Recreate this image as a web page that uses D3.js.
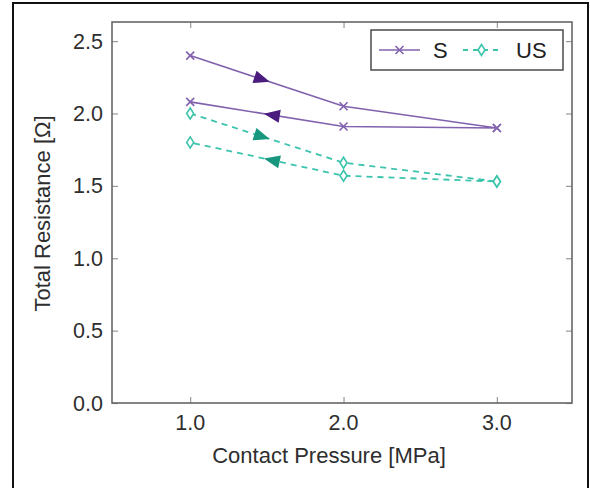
<!doctype html>
<html>
<head>
<meta charset="utf-8">
<script src="https://d3js.org/d3.v7.min.js"></script>
<style>
  body { margin: 0; background: #fff; }
  text { font-family: "Liberation Sans", Arial, sans-serif; fill: #2e2e2e; }
</style>
</head>
<body>
<svg width="590" height="488"></svg>
<script>
// data
var pressure = [1.0, 2.0, 3.0];
var sLoad    = [2.40, 2.05, 1.90];
var sUnload  = [2.08, 1.91, 1.90];
var usLoad   = [2.00, 1.66, 1.53];
var usUnload = [1.80, 1.57, 1.53];
var xTicks = [1.0, 2.0, 3.0];
var yTicks = [0.0, 0.5, 1.0, 1.5, 2.0, 2.5];

var purple = "#8262ae", purpleDark = "#4a1c7e";
var teal = "#3cc4ad", tealDark = "#16977e";

var svg = d3.select("svg");

// outer frame of the figure
svg.append("rect")
   .attr("x", 13).attr("y", 3)
   .attr("width", 575).attr("height", 520)
   .attr("fill", "none").attr("stroke", "#111").attr("stroke-width", 2);

var pLeft = 112, pRight = 572, pTop = 22, pBottom = 403;

var x = d3.scaleLinear().domain([0.49, 3.49]).range([pLeft, pRight]);
var y = d3.scaleLinear().domain([0, 2.632]).range([pBottom, pTop]);

var g = svg.append("g");

// ticks on all four sides, pointing inward
g.append("g").attr("transform", "translate(0," + pBottom + ")")
 .call(d3.axisBottom(x).tickValues(xTicks).tickSize(-6).tickFormat(""))
 .call(s => s.select(".domain").remove());
g.append("g").attr("transform", "translate(0," + pTop + ")")
 .call(d3.axisTop(x).tickValues(xTicks).tickSize(-6).tickFormat(""))
 .call(s => s.select(".domain").remove());
g.append("g").attr("transform", "translate(" + pLeft + ",0)")
 .call(d3.axisLeft(y).tickValues(yTicks).tickSize(-6).tickFormat(""))
 .call(s => s.select(".domain").remove());
g.append("g").attr("transform", "translate(" + pRight + ",0)")
 .call(d3.axisRight(y).tickValues(yTicks).tickSize(-6).tickFormat(""))
 .call(s => s.select(".domain").remove());
g.selectAll(".tick line").attr("stroke", "#999").attr("stroke-width", 1.2);

// plot box
g.append("rect")
 .attr("x", pLeft).attr("y", pTop)
 .attr("width", pRight - pLeft).attr("height", pBottom - pTop)
 .attr("fill", "none").attr("stroke", "#666").attr("stroke-width", 1.6);

// tick labels
g.selectAll(".xl").data(xTicks).enter().append("text")
 .attr("x", d => x(d)).attr("y", pBottom + 27)
 .attr("text-anchor", "middle").attr("font-size", 21.5)
 .text(d => d.toFixed(1));
g.selectAll(".yl").data(yTicks).enter().append("text")
 .attr("x", pLeft - 9).attr("y", d => y(d) + 7.5)
 .attr("text-anchor", "end").attr("font-size", 21.5)
 .text(d => d.toFixed(1));

// axis titles
svg.append("text")
   .attr("x", (pLeft + pRight) / 2 - 13).attr("y", 463)
   .attr("text-anchor", "middle").attr("font-size", 22)
   .text("Contact Pressure [MPa]");
svg.append("text")
   .attr("transform", "translate(50," + ((pTop + pBottom) / 2 + 1) + ") rotate(-90)")
   .attr("text-anchor", "middle").attr("font-size", 22)
   .text("Total Resistance [Ω]");

var line = d3.line().x(d => x(d[0])).y(d => y(d[1]));

function loop(load, unload) {
  var pts = pressure.map((p, i) => [p, load[i]]);
  var back = pressure.map((p, i) => [p, unload[i]]).reverse();
  return pts.concat(back);
}

function arrow(p0, p1, color) {
  // filled triangle with its tip at the middle of the segment
  var x0 = x(p0[0]), y0 = y(p0[1]), x1 = x(p1[0]), y1 = y(p1[1]);
  var mx = (x0 + x1) / 2, my = (y0 + y1) / 2;
  var ang = Math.atan2(y1 - y0, x1 - x0) * 180 / Math.PI;
  svg.append("path")
     .attr("d", "M3,0 L-13,-6.5 L-13,6.5 Z")
     .attr("transform", "translate(" + mx + "," + my + ") rotate(" + ang + ")")
     .attr("fill", color);
}

function crossMark(sel, color) {
  sel.append("path")
     .attr("d", "M-4,-4 L4,4 M-4,4 L4,-4")
     .attr("stroke", color).attr("stroke-width", 1.6).attr("fill", "none");
}
function diamondMark(sel, color) {
  sel.append("path")
     .attr("d", "M0,-5.5 L3.5,0 L0,5.5 L-3.5,0 Z")
     .attr("stroke", color).attr("stroke-width", 1.6).attr("fill", "#fff");
}

// S loop
var sPts = loop(sLoad, sUnload);
svg.append("path").attr("d", line(sPts))
   .attr("fill", "none").attr("stroke", purple).attr("stroke-width", 1.6);
arrow([pressure[0], sLoad[0]], [pressure[1], sLoad[1]], purpleDark);
arrow([pressure[1], sUnload[1]], [pressure[0], sUnload[0]], purpleDark);

// US loop
var usPts = loop(usLoad, usUnload);
svg.append("path").attr("d", line(usPts))
   .attr("fill", "none").attr("stroke", teal).attr("stroke-width", 1.8)
   .attr("stroke-dasharray", "6,5");
arrow([pressure[0], usLoad[0]], [pressure[1], usLoad[1]], tealDark);
arrow([pressure[1], usUnload[1]], [pressure[0], usUnload[0]], tealDark);

svg.selectAll(".sm").data(sPts).enter().append("g")
   .attr("transform", d => "translate(" + x(d[0]) + "," + y(d[1]) + ")")
   .call(crossMark, purple);
svg.selectAll(".um").data(usPts).enter().append("g")
   .attr("transform", d => "translate(" + x(d[0]) + "," + y(d[1]) + ")")
   .call(diamondMark, teal);

// legend
var lg = svg.append("g");
lg.append("rect").attr("x", 371).attr("y", 30).attr("width", 192).attr("height", 40)
  .attr("fill", "#fff").attr("stroke", "#555").attr("stroke-width", 1.6);
lg.append("line").attr("x1", 379).attr("x2", 420).attr("y1", 50).attr("y2", 50)
  .attr("stroke", purple).attr("stroke-width", 1.6);
lg.append("g").attr("transform", "translate(399.5,50)").call(crossMark, purple);
lg.append("text").attr("x", 433).attr("y", 58).attr("font-size", 22).style("fill", "#222").text("S");
lg.append("line").attr("x1", 463).attr("x2", 500).attr("y1", 50).attr("y2", 50)
  .attr("stroke", teal).attr("stroke-width", 1.8).attr("stroke-dasharray", "5,5");
lg.append("g").attr("transform", "translate(481.5,50)").call(diamondMark, teal);
lg.append("text").attr("x", 516).attr("y", 58).attr("font-size", 22).style("fill", "#222").text("US");
</script>
</body>
</html>
